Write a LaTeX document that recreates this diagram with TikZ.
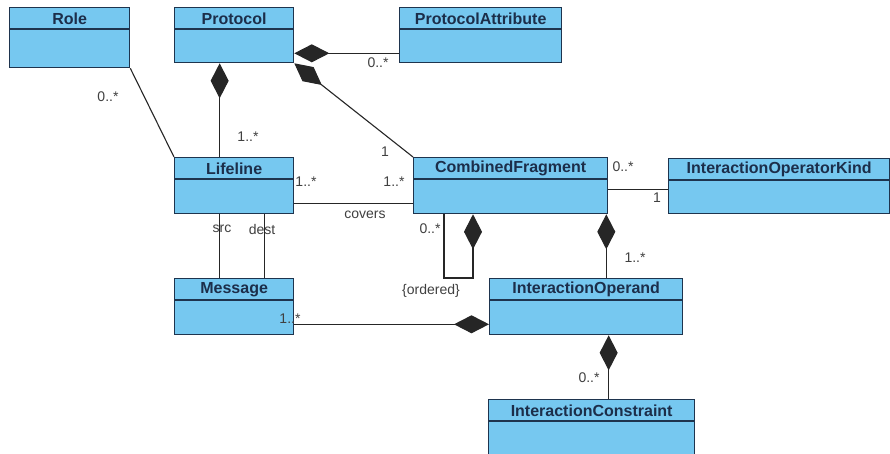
\documentclass[tikz,border=0pt]{standalone}
\usepackage{fontspec}
\setmainfont{Liberation Sans}
\usetikzlibrary{arrows.meta}
\definecolor{clsfill}{RGB}{118,200,240}
\definecolor{clsdraw}{RGB}{30,52,78}
\definecolor{clstext}{RGB}{28,46,74}
\definecolor{lbltext}{RGB}{64,64,64}
\newcommand{\umlclass}[6]{%
  \node[cls, minimum width=#4pt, minimum height=#5pt] (#1) at (#2,#3) {};
  \draw[sep] ([yshift=-22pt]#1.north west) -- ([yshift=-22pt]#1.north east);
  \node[clstitle] (#1-t) at ([yshift=-11.5pt]#1.north) {#6};
}
\begin{document}
\begin{tikzpicture}[x=1pt,y=-1pt,
  cls/.style={draw=clsdraw, fill=clsfill, line width=1.3pt, anchor=north west, inner sep=0pt},
  sep/.style={draw=clsdraw, line width=1.1pt},
  clstitle/.style={text=clstext, inner sep=0pt, font=\fontsize{16}{18}\selectfont\bfseries},
  lbl/.style={text=lbltext, inner sep=1pt, font=\fontsize{14}{16}\selectfont},
  assoc/.style={draw=black!85, line width=1.1pt},
  comp/.style={assoc, {Diamond[length=35pt,width=18pt]}-},
  compend/.style={assoc, -{Diamond[length=35pt,width=18pt]}}]
\useasboundingbox[fill=white] (0,0) rectangle (890,454);
\umlclass{role}{9}{7}{120}{60}{Role}
\umlclass{protocol}{174}{7}{119}{55}{Protocol}
\umlclass{pattr}{399}{7}{162}{55}{ProtocolAttribute}
\umlclass{lifeline}{174}{157}{119}{56}{Lifeline}
\umlclass{cfrag}{413}{157}{194}{56}{CombinedFragment}
\umlclass{opkind}{668}{158}{221}{55}{InteractionOperatorKind}
\umlclass{message}{174}{278}{119}{56}{Message}
\umlclass{operand}{489}{278}{193}{56}{InteractionOperand}
\umlclass{constr}{488}{399}{206}{58}{InteractionConstraint}

\draw[assoc] (role.south east) -- (lifeline.north west);
\draw[comp] ([xshift=-14.5pt]protocol.south) -- ([xshift=-14.5pt]lifeline.north);
\draw[comp] ([yshift=10pt]protocol.south east) -- ([yshift=10pt]pattr.south west);
\draw[comp] (protocol.south east) -- (cfrag.north west);
\draw[assoc] ([yshift=11pt]lifeline.south east) -- ([yshift=11pt]cfrag.south west);
\draw[assoc] ([yshift=25pt]cfrag.south east) -- ([yshift=25pt]opkind.south west);
\draw[assoc] ([xshift=-14.5pt]lifeline.south) -- ([xshift=-14.5pt]message.north);
\draw[assoc] ([xshift=30.5pt]lifeline.south) -- ([xshift=30.5pt]message.north);
\draw[compend] ([yshift=11pt]message.south east) -- ([yshift=11pt]operand.south west);
\coordinate (loopa) at ([xshift=60pt]cfrag.south west);
\coordinate (loopb) at ([xshift=31pt]cfrag.south west);
\draw[comp] (loopa) -- (loopa |- operand.north) -| (loopb);
\draw[comp] ([xshift=-2pt]cfrag.south east) -- ([xshift=-2pt]cfrag.south east |- operand.north);
\draw[comp] ([xshift=22.5pt]operand.south) -- ([xshift=22.5pt]operand.south |- constr.north);

\node[lbl] (m1) at (108,97) {0..*};
\node[lbl] (m2) at (248,137) {1..*};
\node[lbl] (m3) at (378,63) {0..*};
\node[lbl] (m4) at (385,152) {1};
\node[lbl] (m5) at (306,182) {1..*};
\node[lbl] (m6) at (394,182) {1..*};
\node[lbl] (covers) at (365,215) {covers};
\node[lbl] (src) at (222,229) {src};
\node[lbl] (dest) at (262,229) {dest};
\node[lbl] (m7) at (430,229) {0..*};
\node[lbl] (ordered) at (431,291) {\{ordered\}};
\node[lbl] (m8) at (635,258) {1..*};
\node[lbl] (m9) at (623,167) {0..*};
\node[lbl] (m10) at (657,198) {1};
\node[lbl] (m11) at (290,319) {1..*};
\node[lbl] (m12) at (589,378) {0..*};
\end{tikzpicture}
\end{document}
